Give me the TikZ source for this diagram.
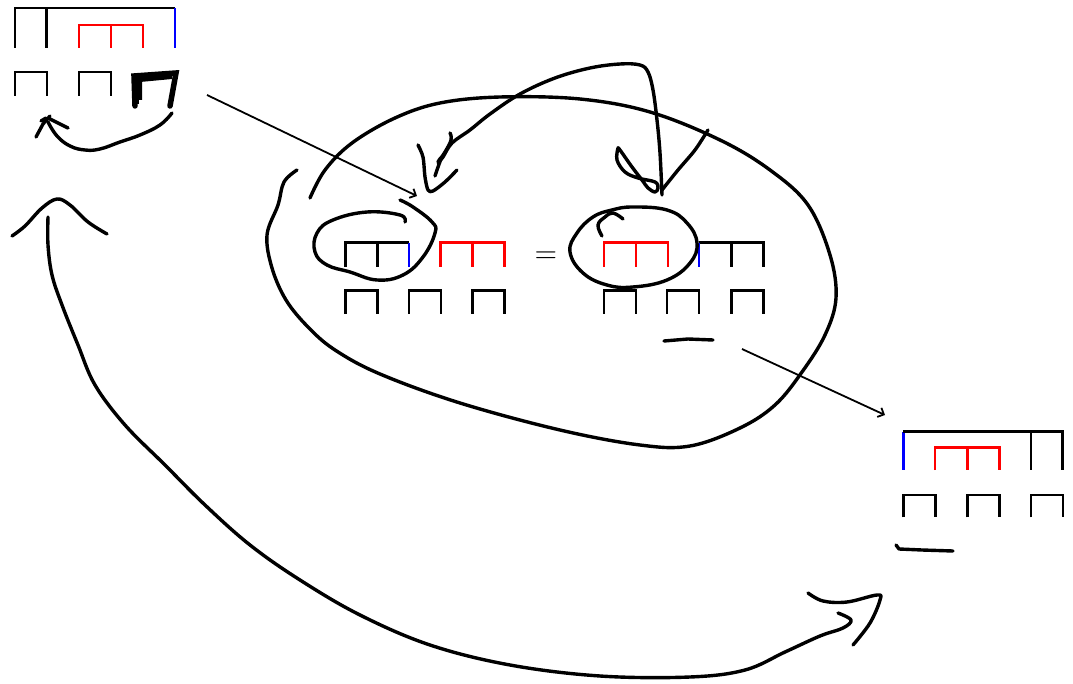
\documentclass[tikz,border=0pt]{standalone}
\usetikzlibrary{arrows.meta}
\definecolor{treeRed}{HTML}{FF0000}
\definecolor{treeBlue}{HTML}{0000FF}
\tikzset{
 edge/.style={line width=2.8pt},
 pen/.style={line width=3.4pt,line cap=round,line join=round},
 link/.style={line width=1.8pt,-{Straight Barb[length=5pt,width=10pt]}},
}
\begin{document}
\begin{tikzpicture}[x=1pt,y=-1pt]
\useasboundingbox (0,0) rectangle (1073,684);
% source tree, top left
\draw[edge] (15,48)--(15,8)--(175,8);
\draw[edge] (46.5,8)--(46.5,48);
\draw[edge,treeBlue] (175,8)--(175,48);
\draw[edge,treeRed] (79,48)--(79,25)--(143,25)--(143,48);
\draw[edge,treeRed] (111,25)--(111,48);
\foreach \x in {15,79}
 \draw[edge] (\x,96)--(\x,72)--(\x+32,72)--(\x+32,96);
% the heavy scribbled cup
\draw[line width=5.5pt,line cap=round] (135,106)--(134,76)--(176,73)--(170,106);
\draw[line width=4pt] (140,100)--(140,80)--(172,77);
\draw[line width=4pt] (137,104)--(136,78);
% hand arrow under it
\draw[pen] plot[smooth,tension=0.7] coordinates {(172,113) (160,125) (140,135) (120,142) (100,149) (85,150) (70,146) (57,136) (48,122)};
\draw[pen] (36,137)--(43,124)--(50,116);
\draw[pen] (48,118)--(68,128);
\draw[pen] (41,121)--(46,118);

% middle equation
\draw[edge] (345.7,266.7)--(345.7,242.7)--(409,242.7);
\draw[edge] (377.7,242.7)--(377.7,266.7);
\draw[edge,treeBlue] (409,242.7)--(409,266.7);
\draw[edge,treeRed] (440.7,266.7)--(440.7,242.7)--(504.5,242.7)--(504.5,266.7);
\draw[edge,treeRed] (472.6,242.7)--(472.6,266.7);
\foreach \x in {345.7,409,472.7}
 \draw[edge] (\x,314)--(\x,290.7)--(\x+32,290.7)--(\x+32,314);
\node[scale=2.9] (eq) at (546,257) {$=$};
\draw[edge,treeRed] (604,266.7)--(604,242.7)--(668,242.7)--(668,266.7);
\draw[edge,treeRed] (636,242.7)--(636,266.7);
\draw[edge] (699,242.7)--(763.3,242.7)--(763.3,266.7);
\draw[edge] (731.3,242.7)--(731.3,266.7);
\draw[edge,treeBlue] (699,242.7)--(699,266.7);
\foreach \x in {604,667,731.3}
 \draw[edge] (\x,314)--(\x,290.7)--(\x+32,290.7)--(\x+32,314);

% rings round the swapped parts
\draw[pen] plot[smooth,tension=0.7] coordinates {(405,222) (400,215) (367,212) (333,220) (317,233) (315,252) (327,265) (350,272) (377,280) (403,275) (423,257) (435,233) (432,222) (413,207) (400,200)};
\draw[pen] plot[smooth cycle,tension=0.7] coordinates {(633,207) (667,210) (687,223) (697,243) (690,263) (667,280) (633,287) (607,285) (583,273) (570,252) (577,233) (593,217) (612,210)};
\draw[pen] plot[smooth,tension=0.7] coordinates {(602,236) (598,225) (605,217) (613,213) (623,219)};
\draw[pen] (664,341)--(688,339)--(713,340);

% swap arrow over the top
\draw[pen] plot[smooth,tension=0.6] coordinates {(662,195) (660,153) (657,120) (653,90) (648,72) (640,65) (620,64) (590,68) (555,78) (520,94) (490,114) (470,130) (452,143) (443,157) (438,163)};
\draw[pen] plot[smooth,tension=0.7] coordinates {(450,133) (451,140) (445,152) (438,162) (441,158) (437,170) (435,176)};
\draw[pen] plot[smooth,tension=0.5] coordinates {(418,145) (423,157) (425,177) (428,190) (433,191) (445,182) (457,170)};
\draw[pen] plot[smooth,tension=0.5] coordinates {(708,130) (695,150) (678,170) (662,190)};
\draw[pen] plot[smooth,tension=0.6] coordinates {(618,148) (617,160) (625,172) (638,178) (655,182) (658,188) (655,192) (648,188) (642,180) (632,167) (620,150) (618,148)};

% big loop round the equation
\draw[pen] plot[smooth,tension=0.6] coordinates {(297,170) (284,182) (278,205) (267,235) (272,268) (286,300) (308,327) (335,350) (380,374) (460,403) (560,430) (640,445) (690,446) (740,428) (775,405) (802,372) (825,335) (836,298) (830,255) (808,205) (770,170) (720,140) (650,112) (580,99) (500,97) (440,103) (395,118) (352,143) (325,170) (310,198)};

% target tree, bottom right
\draw[edge,treeBlue] (903.3,431.7)--(903.3,470);
\draw[edge] (903.3,431.7)--(1062.7,431.7)--(1062.7,470);
\draw[edge] (1031,431.7)--(1031,470);
\draw[edge,treeRed] (935,470)--(935,447.3)--(999.3,447.3)--(999.3,470);
\draw[edge,treeRed] (967.3,447.3)--(967.3,470);
\foreach \x in {903.3,967.3,1031}
 \draw[edge] (\x,517.3)--(\x,495)--(\x+32,495)--(\x+32,517.3);
\draw[pen] (896,545)--(899,549)--(922,550)--(953,551);

% thin links between the trees
\coordinate (fromTop) at (207,95);
\coordinate (toEq) at (417,196);
\coordinate (fromEq) at (742,349);
\coordinate (toBottom) at (885,415);
\draw[link] (fromTop)--(toEq);
\draw[link] (fromEq)--(toBottom);

% long way round
\draw[pen] plot[smooth,tension=0.6] coordinates {(12,236) (25,226) (42,208) (57,199) (70,205) (88,222) (107,234)};
\draw[pen] plot[smooth,tension=0.6] coordinates {(48,217) (48,245) (52,275) (62,305) (78,345) (95,385) (125,425) (165,465) (205,505) (250,545) (300,580) (360,615) (430,645) (510,665) (600,676) (690,677) (745,670) (785,652) (820,636) (843,628) (851,620) (838,613)};
\draw[pen] plot[smooth,tension=0.6] coordinates {(808,593) (823,601) (847,602) (877,595) (880,600) (870,623) (853,645)};
\end{tikzpicture}
\end{document}
